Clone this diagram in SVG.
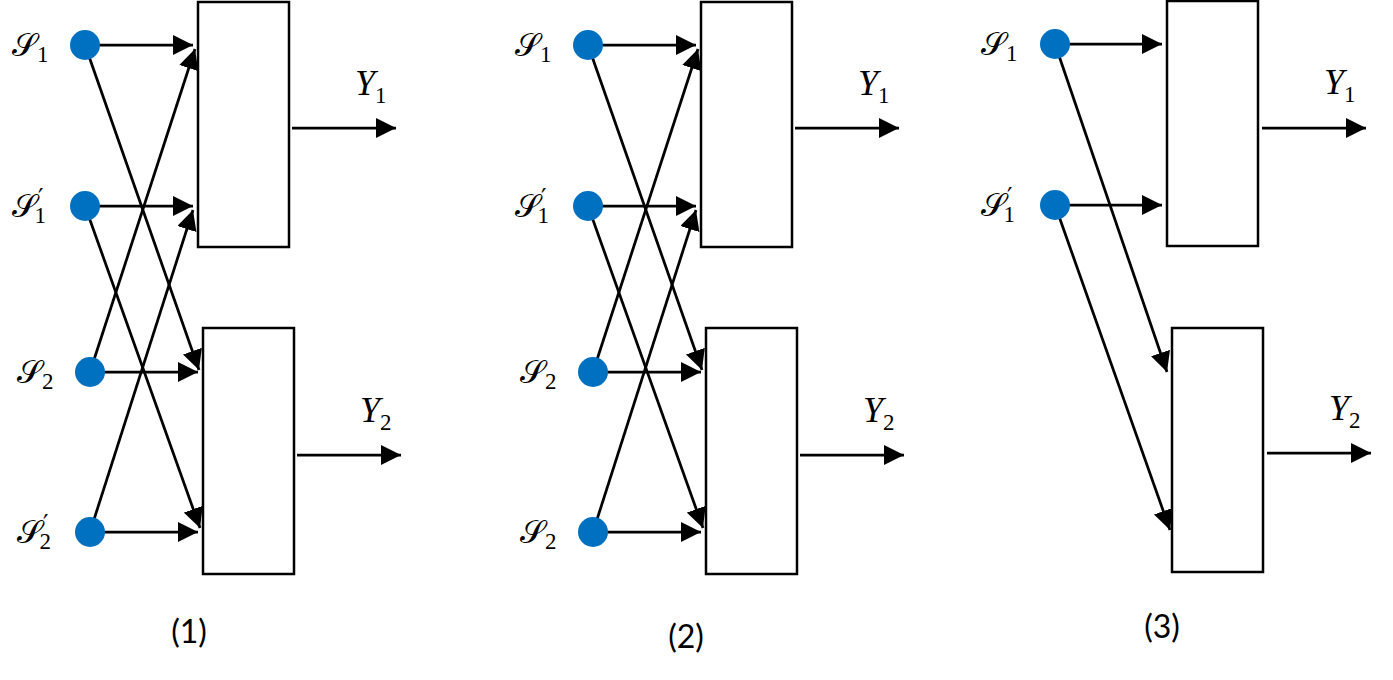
<svg xmlns="http://www.w3.org/2000/svg" width="1393" height="680" viewBox="0 0 1393 680">
<defs>
<style>
.box{fill:#fff;stroke:#000;stroke-width:2.5}
.dot{fill:#0070c0}
.ln{stroke:#000;stroke-width:2.75;fill:none;marker-end:url(#ah)}
.s{font-family:"DejaVu Serif","DejaVu Sans",serif;font-size:32px;fill:#000}
.sub{font-family:"Liberation Serif",serif;font-style:normal;font-size:23px}
.pr{font-family:"DejaVu Sans",sans-serif;font-style:normal;font-size:24px}
.y{font-family:"Liberation Serif",serif;font-style:italic;font-size:36px;fill:#000}
.cap{font-family:Lato,"Liberation Sans",sans-serif;font-size:32px;fill:#000;text-anchor:middle}
</style>
<marker id="ah" viewBox="0 0 20 20" refX="20" refY="10" markerWidth="20" markerHeight="20" markerUnits="userSpaceOnUse" orient="auto">
<path d="M0,0 L20,10 L0,20 z" fill="#000"/>
</marker>
</defs>
<rect width="1393" height="680" fill="#fff"/>

<g id="connectors">
<!-- panel 1 -->
<line class="ln" x1="85" y1="45" x2="193" y2="45"/>
<line class="ln" x1="85" y1="206" x2="193" y2="206"/>
<line class="ln" x1="90" y1="372" x2="195" y2="49"/>
<line class="ln" x1="90" y1="532" x2="193" y2="210"/>
<line class="ln" x1="85" y1="45" x2="199" y2="370"/>
<line class="ln" x1="85" y1="206" x2="200" y2="528"/>
<line class="ln" x1="90" y1="372" x2="198" y2="372"/>
<line class="ln" x1="90" y1="532" x2="198" y2="532"/>
<line class="ln" x1="292" y1="128" x2="396" y2="128"/>
<line class="ln" x1="297" y1="455" x2="401" y2="455"/>
<!-- panel 2 -->
<line class="ln" x1="588" y1="45" x2="696" y2="45"/>
<line class="ln" x1="588" y1="206" x2="696" y2="206"/>
<line class="ln" x1="593" y1="372" x2="698" y2="49"/>
<line class="ln" x1="593" y1="532" x2="696" y2="210"/>
<line class="ln" x1="588" y1="45" x2="702" y2="370"/>
<line class="ln" x1="588" y1="206" x2="703" y2="528"/>
<line class="ln" x1="593" y1="372" x2="701" y2="372"/>
<line class="ln" x1="593" y1="532" x2="701" y2="532"/>
<line class="ln" x1="795" y1="128" x2="899" y2="128"/>
<line class="ln" x1="800" y1="455" x2="904" y2="455"/>
<!-- panel 3 -->
<line class="ln" x1="1055" y1="44" x2="1162" y2="44"/>
<line class="ln" x1="1055" y1="205" x2="1162" y2="205"/>
<line class="ln" x1="1055" y1="44" x2="1167" y2="372"/>
<line class="ln" x1="1055" y1="205" x2="1170" y2="530"/>
<line class="ln" x1="1262" y1="128" x2="1366" y2="128"/>
<line class="ln" x1="1267" y1="453" x2="1371" y2="453"/>
</g>

<!-- Panel 1 -->
<g id="p1-box1"><rect class="box" x="198" y="2" width="91" height="245"/></g>
<g id="p1-box2"><rect class="box" x="203" y="328" width="91" height="246"/></g>
<g id="p1-s1"><circle class="dot" cx="85" cy="45" r="15"/><text class="s" x="12" y="56">𝒮<tspan class="sub" y="62">1</tspan></text></g>
<g id="p1-s1p"><circle class="dot" cx="85" cy="206" r="15"/><text class="s" x="12" y="217">𝒮<tspan class="pr" dx="1" y="206">′</tspan><tspan class="sub" dx="-9" y="223">1</tspan></text></g>
<g id="p1-s2"><circle class="dot" cx="90" cy="372" r="15"/><text class="s" x="17" y="383">𝒮<tspan class="sub" y="389">2</tspan></text></g>
<g id="p1-s2p"><circle class="dot" cx="90" cy="532" r="15"/><text class="s" x="17" y="543">𝒮<tspan class="pr" dx="1" y="532">′</tspan><tspan class="sub" dx="-9" y="549">2</tspan></text></g>
<g id="p1-y1"><text class="y" x="355" y="95">Y<tspan class="sub" y="103">1</tspan></text></g>
<g id="p1-y2"><text class="y" x="360" y="422">Y<tspan class="sub" y="430">2</tspan></text></g>
<g id="p1-cap"><text class="cap" x="189" y="643">(1)</text></g>

<!-- Panel 2 -->
<g id="p2-box1"><rect class="box" x="701" y="2" width="91" height="245"/></g>
<g id="p2-box2"><rect class="box" x="706" y="328" width="91" height="246"/></g>
<g id="p2-s1"><circle class="dot" cx="588" cy="45" r="15"/><text class="s" x="515" y="56">𝒮<tspan class="sub" y="62">1</tspan></text></g>
<g id="p2-s1p"><circle class="dot" cx="588" cy="206" r="15"/><text class="s" x="515" y="217">𝒮<tspan class="pr" dx="1" y="206">′</tspan><tspan class="sub" dx="-9" y="223">1</tspan></text></g>
<g id="p2-s2a"><circle class="dot" cx="593" cy="372" r="15"/><text class="s" x="520" y="383">𝒮<tspan class="sub" y="389">2</tspan></text></g>
<g id="p2-s2b"><circle class="dot" cx="593" cy="532" r="15"/><text class="s" x="520" y="543">𝒮<tspan class="sub" y="549">2</tspan></text></g>
<g id="p2-y1"><text class="y" x="858" y="95">Y<tspan class="sub" y="103">1</tspan></text></g>
<g id="p2-y2"><text class="y" x="863" y="422">Y<tspan class="sub" y="430">2</tspan></text></g>
<g id="p2-cap"><text class="cap" x="686" y="648">(2)</text></g>

<!-- Panel 3 -->
<g id="p3-box1"><rect class="box" x="1167" y="1" width="91" height="245"/></g>
<g id="p3-box2"><rect class="box" x="1172" y="328" width="91" height="244"/></g>
<g id="p3-s1"><circle class="dot" cx="1055" cy="44" r="15"/><text class="s" x="981" y="55">𝒮<tspan class="sub" y="61">1</tspan></text></g>
<g id="p3-s1p"><circle class="dot" cx="1055" cy="205" r="15"/><text class="s" x="981" y="216">𝒮<tspan class="pr" dx="1" y="205">′</tspan><tspan class="sub" dx="-9" y="222">1</tspan></text></g>
<g id="p3-y1"><text class="y" x="1324" y="94">Y<tspan class="sub" y="102">1</tspan></text></g>
<g id="p3-y2"><text class="y" x="1329" y="420">Y<tspan class="sub" y="428">2</tspan></text></g>
<g id="p3-cap"><text class="cap" x="1162" y="638">(3)</text></g>
</svg>
